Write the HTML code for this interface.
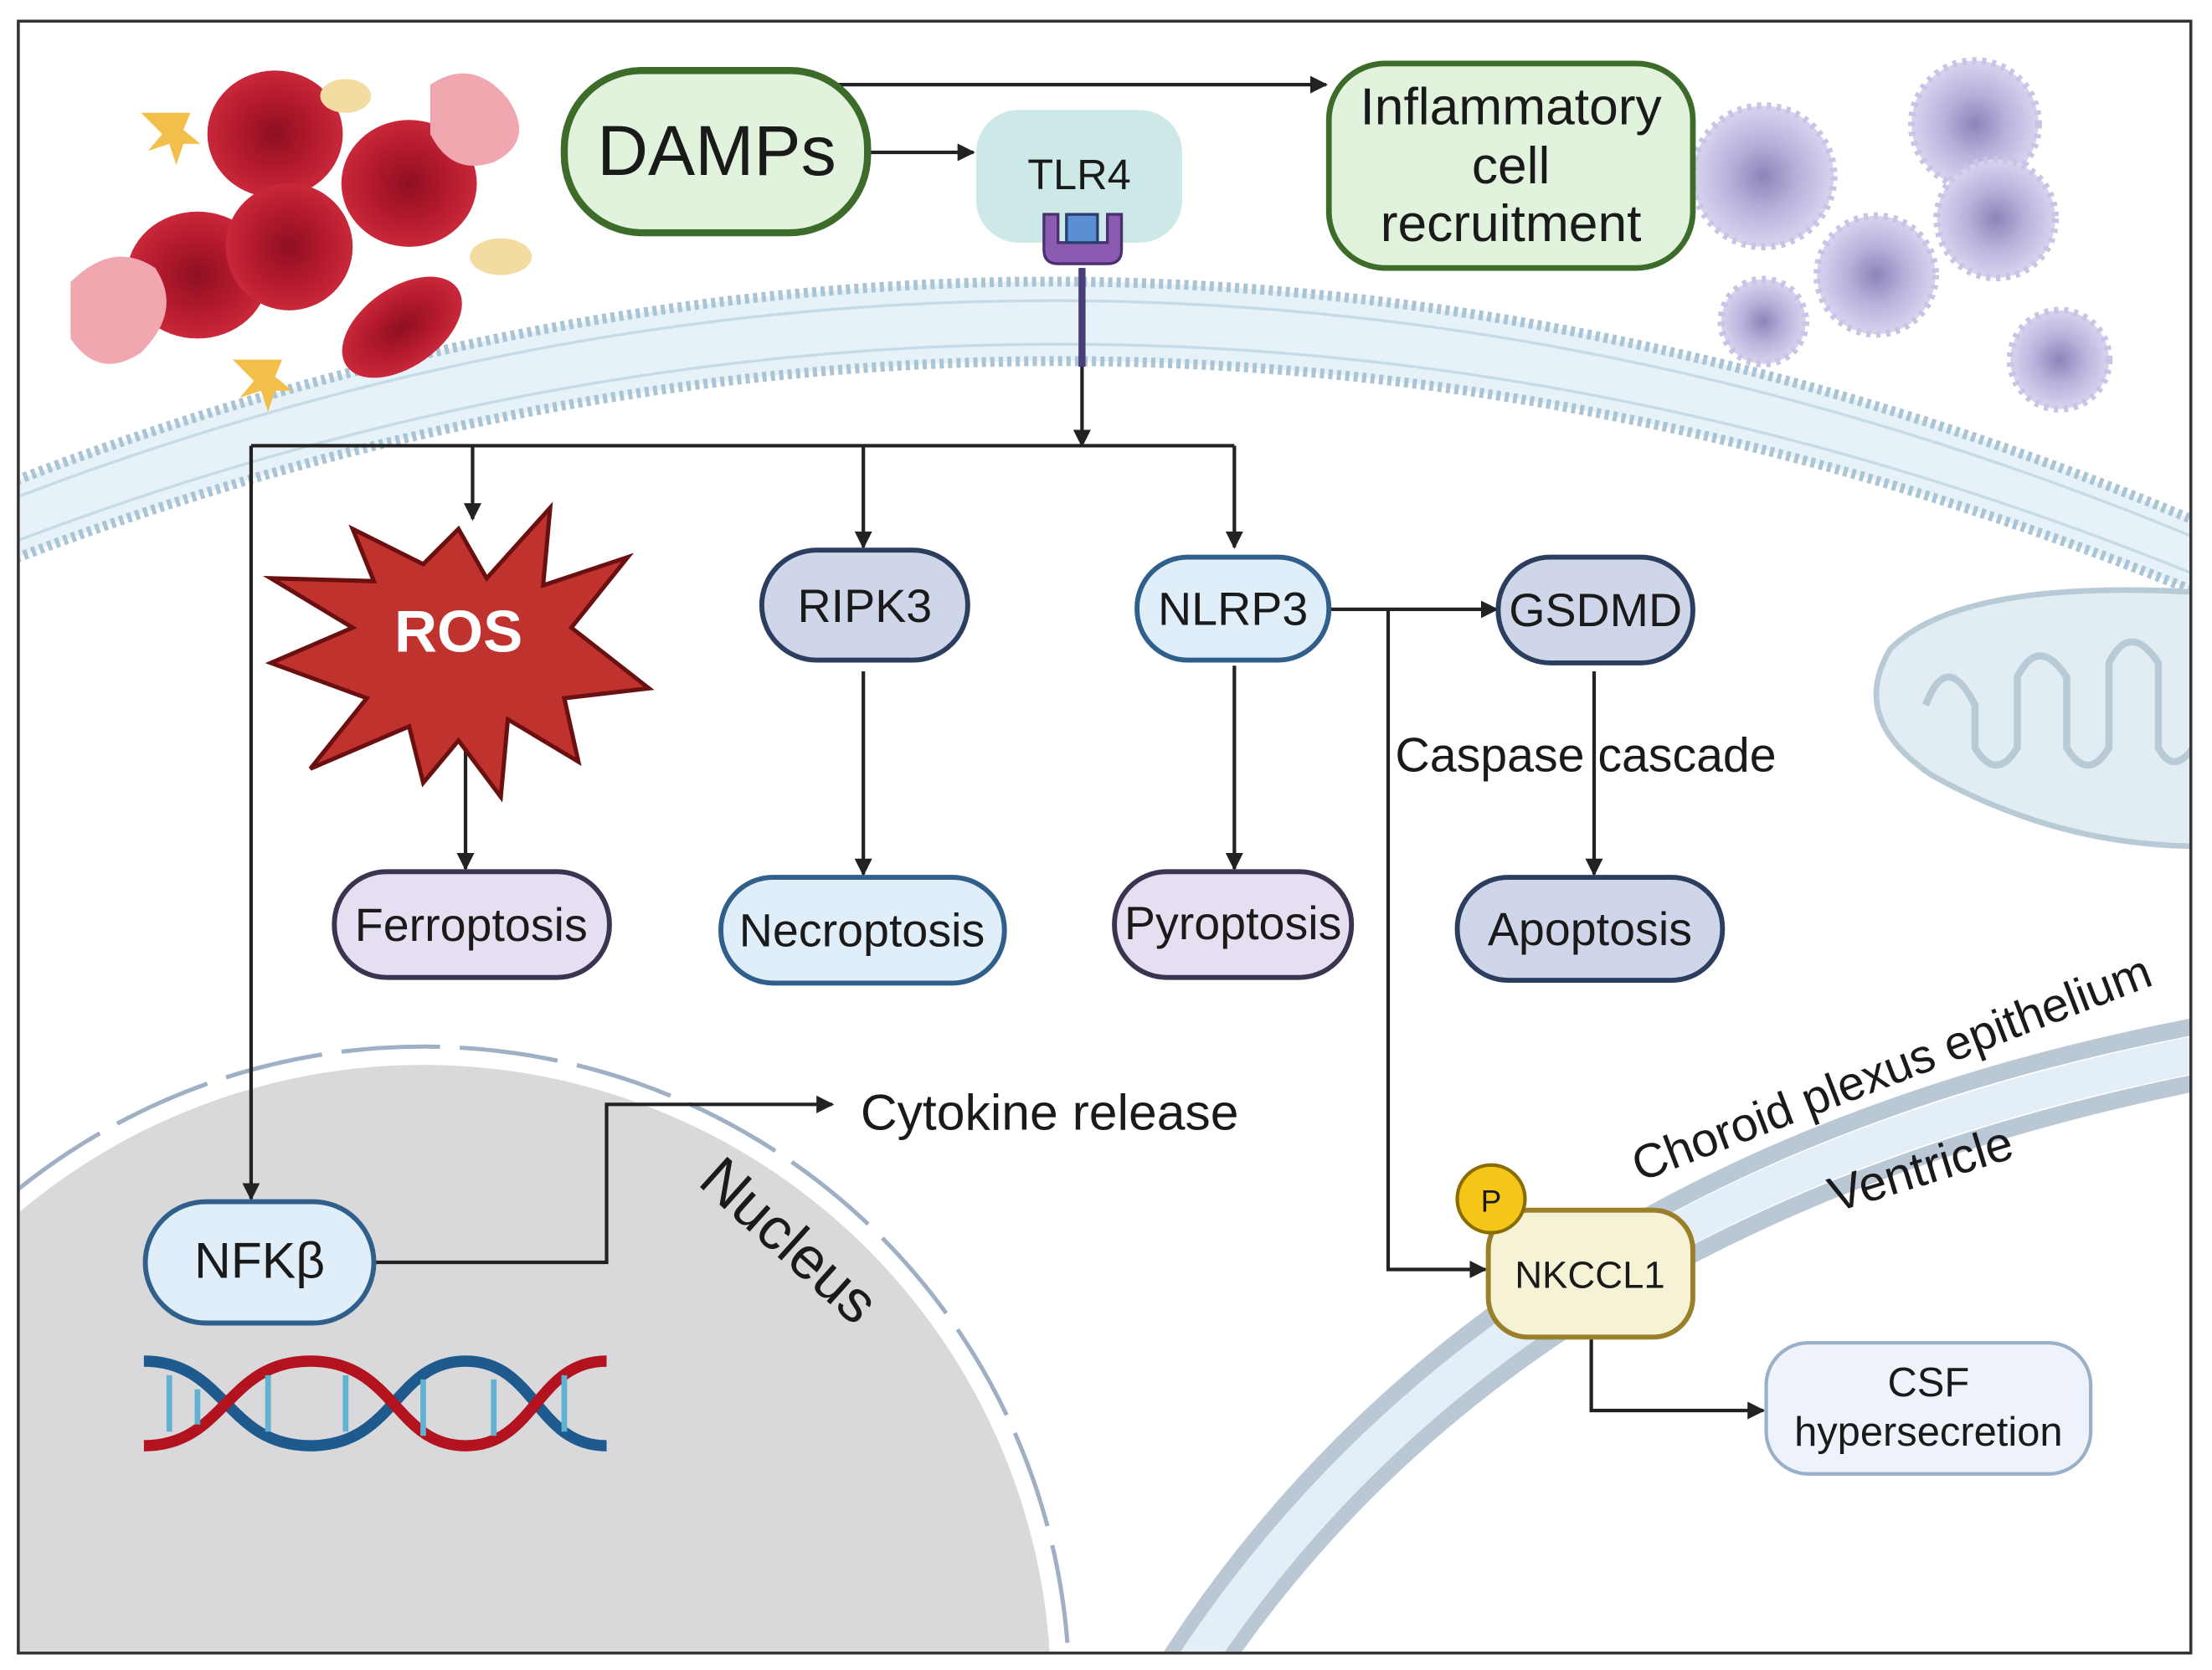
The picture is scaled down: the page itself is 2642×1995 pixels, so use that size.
<!DOCTYPE html>
<html><head><meta charset="utf-8"><style>
html,body{margin:0;padding:0;background:#fff;width:2642px;height:1995px;overflow:hidden}
svg{display:block}
text{font-family:"Liberation Sans",sans-serif;fill:#1a1a1a}
</style></head><body>
<svg width="2642" height="1995" viewBox="0 0 1568 1184" xmlns="http://www.w3.org/2000/svg">
<defs>
<marker id="a" viewBox="0 0 10 10" refX="9" refY="5" markerWidth="5" markerHeight="5" orient="auto"><path d="M0,0L10,5L0,10z" fill="#222"/></marker>
<radialGradient id="rbc" cx="50%" cy="50%" r="50%"><stop offset="0" stop-color="#8e1020"/><stop offset="0.6" stop-color="#b51a2e"/><stop offset="1" stop-color="#c8283a"/></radialGradient>
<radialGradient id="mac" cx="50%" cy="50%" r="50%"><stop offset="0" stop-color="#8c84b8"/><stop offset="0.5" stop-color="#b8b2dc"/><stop offset="1" stop-color="#d8d4ee"/></radialGradient>
</defs>
<rect x="13" y="15" width="1540" height="1157" fill="#fff" stroke="#333" stroke-width="2"/>
<clipPath id="c"><rect x="14" y="16" width="1538" height="1155"/></clipPath>
<g clip-path="url(#c)">
<path d="M0,345 Q780,40 1570,375 L1570,425 Q780,100 0,400Z" fill="#e6f1f8"/>
<path d="M0,345 Q780,40 1570,375" fill="none" stroke="#a9c4d4" stroke-width="7" stroke-dasharray="3 3"/>
<path d="M0,400 Q780,100 1570,425" fill="none" stroke="#a9c4d4" stroke-width="7" stroke-dasharray="3 3"/>
<path d="M0,357 Q780,55 1570,387" fill="none" stroke="#c6dbe6" stroke-width="2"/>
<path d="M0,388 Q780,88 1570,413" fill="none" stroke="#c6dbe6" stroke-width="2"/>
<circle cx="300" cy="1200" r="445" fill="#d9d9db"/>
<circle cx="300" cy="1200" r="458" fill="none" stroke="#9fb0c4" stroke-width="3" stroke-dasharray="70 14"/>
<path d="M820,1190 Q1050,820 1570,725" fill="none" stroke="#b9c8d4" stroke-width="12"/>
<path d="M860,1190 Q1080,860 1570,765" fill="none" stroke="#b9c8d4" stroke-width="12"/>
<path d="M840,1190 Q1065,840 1570,745" fill="none" stroke="#e4eef7" stroke-width="26"/>
<path d="M1560,420 Q1390,410 1340,460 Q1310,510 1370,550 Q1460,600 1560,600Z" fill="#e2ecf3" stroke="#b8cad6" stroke-width="4"/>
<path d="M1365,500 q15,-40 35,0 v30 q15,25 30,0 v-50 q15,-30 35,0 v50 q15,25 30,0 v-60 q15,-30 35,0 v60 q10,20 25,0" fill="none" stroke="#b8cad6" stroke-width="5"/>
<g>
<ellipse cx="195" cy="95" rx="48" ry="45" fill="url(#rbc)"/>
<ellipse cx="290" cy="130" rx="48" ry="45" fill="url(#rbc)"/>
<ellipse cx="140" cy="195" rx="50" ry="45" fill="url(#rbc)"/>
<ellipse cx="205" cy="175" rx="45" ry="45" fill="url(#rbc)"/>
<ellipse cx="285" cy="232" rx="48" ry="28" transform="rotate(-35 285 232)" fill="url(#rbc)"/>
<ellipse cx="355" cy="182" rx="22" ry="13" fill="#f2dca2"/>
<ellipse cx="245" cy="68" rx="18" ry="12" fill="#f2dca2"/>
<path d="M50,200 q30,-30 60,-10 q20,30 -10,60 q-30,20 -50,-10z" fill="#f0a7b0"/>
<path d="M305,60 q30,-20 55,10 q20,30 -10,45 q-30,10 -45,-20z" fill="#f0a7b0"/>
<path d="M100,80 l15,15 l-10,12 l15,-5 l5,15 l5,-15 l12,0 l-12,-10 l5,-12z" fill="#f2c04a"/>
<path d="M165,255 l15,15 l-10,12 l15,-5 l5,15 l5,-15 l12,0 l-12,-10 l5,-12z" fill="#f2c04a"/>
</g>
<g stroke="#c9c4e6" stroke-width="5" stroke-dasharray="3 4">
<circle cx="1250" cy="125" r="50" fill="url(#mac)"/>
<circle cx="1400" cy="88" r="45" fill="url(#mac)"/>
<circle cx="1415" cy="155" r="42" fill="url(#mac)"/>
<circle cx="1330" cy="195" r="42" fill="url(#mac)"/>
<circle cx="1250" cy="228" r="30" fill="url(#mac)"/>
<circle cx="1460" cy="255" r="35" fill="url(#mac)"/>
</g>
</g>
<rect x="13" y="15" width="1540" height="1157" fill="none" stroke="#333" stroke-width="2"/>
<path d="M102,965 C160,965 160,1025 220,1025 C280,1025 280,965 330,965 C380,965 380,1025 430,1025" fill="none" stroke="#1e5a8e" stroke-width="8"/>
<path d="M102,1025 C160,1025 160,965 220,965 C280,965 280,1025 330,1025 C380,1025 380,965 430,965" fill="none" stroke="#b3121f" stroke-width="8"/>
<g stroke="#5fb2d0" stroke-width="4"><path d="M120,975v40M140,985v25M190,975v40M245,975v40M300,978v40M350,978v40M400,975v40"/></g>
<g stroke="#222" stroke-width="2.5" fill="none">
<path d="M590,60H940" marker-end="url(#a)"/>
<path d="M616,108H690" marker-end="url(#a)"/>
<path d="M767,190V316" marker-end="url(#a)"/>
<path d="M178,316H875"/>
<path d="M335,316V368" marker-end="url(#a)"/>
<path d="M612,316V388" marker-end="url(#a)"/>
<path d="M875,316V388" marker-end="url(#a)"/>
<path d="M178,316V850" marker-end="url(#a)"/>
<path d="M330,520V616" marker-end="url(#a)"/>
<path d="M612,476V620" marker-end="url(#a)"/>
<path d="M875,472V616" marker-end="url(#a)"/>
<path d="M1130,476V620" marker-end="url(#a)"/>
<path d="M942,432H1061" marker-end="url(#a)"/>
<path d="M984,432V900H1053" marker-end="url(#a)"/>
<path d="M265,895H430V783H590" marker-end="url(#a)"/>
<path d="M1128,948V1000H1250" marker-end="url(#a)"/>
</g>
<line x1="767" y1="190" x2="767" y2="260" stroke="#4a3f78" stroke-width="5"/>
<rect x="400" y="50" width="215" height="115" rx="55" fill="#e1f3dc" stroke="#3d6b2a" stroke-width="5"/>
<text x="508" y="124" font-size="50" text-anchor="middle">DAMPs</text>
<rect x="692" y="78" width="146" height="94" rx="30" fill="#cde9e7"/>
<text x="765" y="134" font-size="30" text-anchor="middle">TLR4</text>
<path d="M740,152v25q0,10 10,10h35q10,0 10,-10v-25h-10v20h-35v-20z" fill="#8a5bb0" stroke="#4a3070" stroke-width="2"/>
<rect x="756" y="152" width="22" height="20" fill="#5b8fd4" stroke="#2a3f70" stroke-width="2"/>
<rect x="942" y="45" width="258" height="145" rx="40" fill="#e1f3dc" stroke="#3d6b2a" stroke-width="4"/>
<text font-size="37" text-anchor="middle"><tspan x="1071" y="88">Inflammatory</tspan><tspan x="1071" y="130">cell</tspan><tspan x="1071" y="171">recruitment</tspan></text>
<path d="M325,375 L345,410 L390,360 L385,415 L445,395 L405,445 L460,488 L400,495 L410,540 L360,510 L355,565 L325,525 L300,555 L290,515 L220,545 L260,495 L192,470 L250,445 L192,410 L265,412 L250,375 L300,400Z" fill="#c0322e" stroke="#6b1010" stroke-width="3"/>
<text x="325" y="462" font-size="42" font-weight="bold" text-anchor="middle" style="fill:#fff">ROS</text>
<g stroke-width="3.5">
<rect x="540" y="390" width="146" height="78" rx="39" fill="#d0d6ea" stroke="#2c3e5f"/>
<rect x="806" y="395" width="136" height="73" rx="36" fill="#e0eefa" stroke="#2f5f8a"/>
<rect x="1062" y="395" width="138" height="75" rx="37" fill="#d0d6ea" stroke="#2c3e5f"/>
<rect x="237" y="618" width="195" height="75" rx="37" fill="#e6dff2" stroke="#3a3450"/>
<rect x="511" y="622" width="201" height="75" rx="37" fill="#e0eefa" stroke="#2f5f8a"/>
<rect x="790" y="618" width="168" height="75" rx="37" fill="#e6dff2" stroke="#3a3450"/>
<rect x="1033" y="622" width="188" height="73" rx="36" fill="#d0d6ea" stroke="#2c3e5f"/>
<rect x="103" y="852" width="162" height="86" rx="43" fill="#e0eefa" stroke="#2f5f8a"/>
<rect x="1055" y="858" width="145" height="90" rx="28" fill="#f5f2d6" stroke="#9a7f2a"/>
<rect x="1252" y="952" width="230" height="93" rx="30" fill="#eef3fb" stroke="#9ab0c8" stroke-width="2.5"/>
</g>
<circle cx="1057" cy="850" r="24" fill="#f5c518" stroke="#8a6d00" stroke-width="2.5"/>
<text x="1057" y="859" font-size="22" text-anchor="middle">P</text>
<g font-size="33" text-anchor="middle">
<text x="613" y="441">RIPK3</text>
<text x="874" y="443">NLRP3</text>
<text x="1131" y="444">GSDMD</text>
<text x="334" y="667">Ferroptosis</text>
<text x="611" y="671">Necroptosis</text>
<text x="874" y="666">Pyroptosis</text>
<text x="1127" y="670">Apoptosis</text>
<text x="184" y="906" font-size="36">NFKβ</text>
<text x="1127" y="913" font-size="27">NKCCL1</text>
<text x="1367" y="990" font-size="29">CSF</text>
<text x="1367" y="1025" font-size="29">hypersecretion</text>
</g>
<text x="989" y="547" font-size="34">Caspase cascade</text>
<text x="610" y="801" font-size="36">Cytokine release</text>
<text x="550" y="890" font-size="42" text-anchor="middle" transform="rotate(42 550 890)">Nucleus</text>
<text x="1345" y="768" font-size="34" text-anchor="middle" transform="rotate(-21 1345 768)">Choroid plexus epithelium</text>
<text x="1365" y="840" font-size="35" text-anchor="middle" transform="rotate(-17 1365 840)">Ventricle</text>
</svg>
</body></html>
